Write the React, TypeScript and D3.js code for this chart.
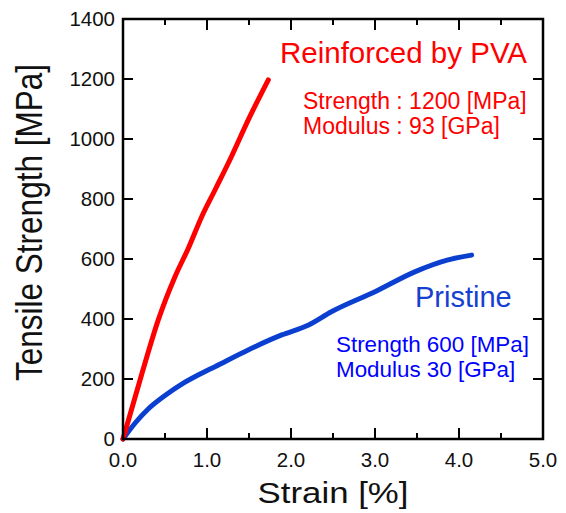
import React from "react";
import * as d3 from "d3";

// strain [%] vs tensile strength [MPa]
const pvaStrain = [0, 0.222, 0.42, 0.619, 0.778, 0.937, 1.095, 1.29, 1.49, 1.73];
const pvaStress = [0, 215, 397, 541, 636, 741, 830, 941, 1063, 1197];

const pristineStrain = [0, 0.15, 0.3, 0.5, 0.7, 0.9, 1.1, 1.49, 1.89, 2.21, 2.48, 3.0, 3.48, 3.87, 4.15];
const pristineStress = [0, 55, 100, 145, 183, 214, 242, 297, 347, 380, 424, 491, 558, 597, 613];

const xMajor = [0, 1, 2, 3, 4, 5];
const xMinor = [0.5, 1.5, 2.5, 3.5, 4.5];
const yMajor = [0, 200, 400, 600, 800, 1000, 1200, 1400];

const FONT = "'Liberation Sans', Arial, sans-serif";

const App = () => {
  const width = 566;
  const height = 513;
  const left = 123, right = 543, top = 19, bottom = 439;

  const x = d3.scaleLinear().domain([0, 5]).range([left, right]);
  const y = d3.scaleLinear().domain([0, 1400]).range([bottom, top]);

  const line = d3
    .line<[number, number]>()
    .x(d => x(d[0]))
    .y(d => y(d[1]))
    .curve(d3.curveMonotoneX);

  const pva = pvaStrain.map((s, i) => [s, pvaStress[i]] as [number, number]);
  const pristine = pristineStrain.map((s, i) => [s, pristineStress[i]] as [number, number]);

  return (
    <svg
      width={width}
      height={height}
      style={{ position: "absolute", left: 0, top: 0, background: "#fff" }}
      fontFamily={FONT}
    >
      {/* curves */}
      <path d={line(pristine) || ""} fill="none" stroke="#0a3fd0" strokeWidth={5} strokeLinecap="round" />
      <path d={line(pva) || ""} fill="none" stroke="#ff0000" strokeWidth={5} strokeLinecap="round" />

      {/* ticks, all pointing inward */}
      {xMajor.map(v => (
        <g key={"xM" + v} stroke="#000" strokeWidth={2}>
          <line x1={x(v)} x2={x(v)} y1={bottom} y2={bottom - 11} />
          <line x1={x(v)} x2={x(v)} y1={top} y2={top + 11} />
        </g>
      ))}
      {xMinor.map(v => (
        <g key={"xm" + v} stroke="#000" strokeWidth={2}>
          <line x1={x(v)} x2={x(v)} y1={bottom} y2={bottom - 6} />
          <line x1={x(v)} x2={x(v)} y1={top} y2={top + 6} />
        </g>
      ))}
      {yMajor.map(v => (
        <g key={"yM" + v} stroke="#000" strokeWidth={2}>
          <line x1={left} x2={left + 10} y1={y(v)} y2={y(v)} />
          <line x1={right} x2={right - 10} y1={y(v)} y2={y(v)} />
        </g>
      ))}

      {/* frame */}
      <rect x={left} y={top} width={right - left} height={bottom - top} fill="none" stroke="#000" strokeWidth={2.5} />

      {/* tick labels */}
      {xMajor.map(v => (
        <text key={"xl" + v} x={x(v)} y={467} textAnchor="middle" fontSize={20.5} fill="#111">
          {v.toFixed(1)}
        </text>
      ))}
      {yMajor.map(v => (
        <text key={"yl" + v} x={115} y={y(v) + 7} textAnchor="end" fontSize={20.5} fill="#111">
          {v}
        </text>
      ))}

      {/* axis titles (slightly stretched horizontally, as in the source) */}
      <text
        transform={`translate(${(left + right) / 2} 503) scale(1.2 1)`}
        textAnchor="middle"
        fontSize={29}
        fill="#111"
      >
        Strain [%]
      </text>
      <text
        transform={`translate(42 222.5) scale(1.15 1) rotate(-90)`}
        textAnchor="middle"
        fontSize={31.5}
        fill="#111"
      >
        Tensile Strength [MPa]
      </text>

      {/* annotations */}
      <text x={280} y={63} fontSize={29.5} fill="#ff0000">Reinforced by PVA</text>
      <text x={303} y={109} fontSize={23} fill="#ff0000">Strength : 1200 [MPa]</text>
      <text x={303} y={134} fontSize={23} fill="#ff0000">Modulus : 93 [GPa]</text>

      <text x={415} y={307} fontSize={29} fill="#1540d0">Pristine</text>
      <text x={336} y={352} fontSize={22.4} fill="#0000ff">Strength 600 [MPa]</text>
      <text x={336} y={377} fontSize={22.4} fill="#0000ff">Modulus 30 [GPa]</text>
    </svg>
  );
};

export default App;
